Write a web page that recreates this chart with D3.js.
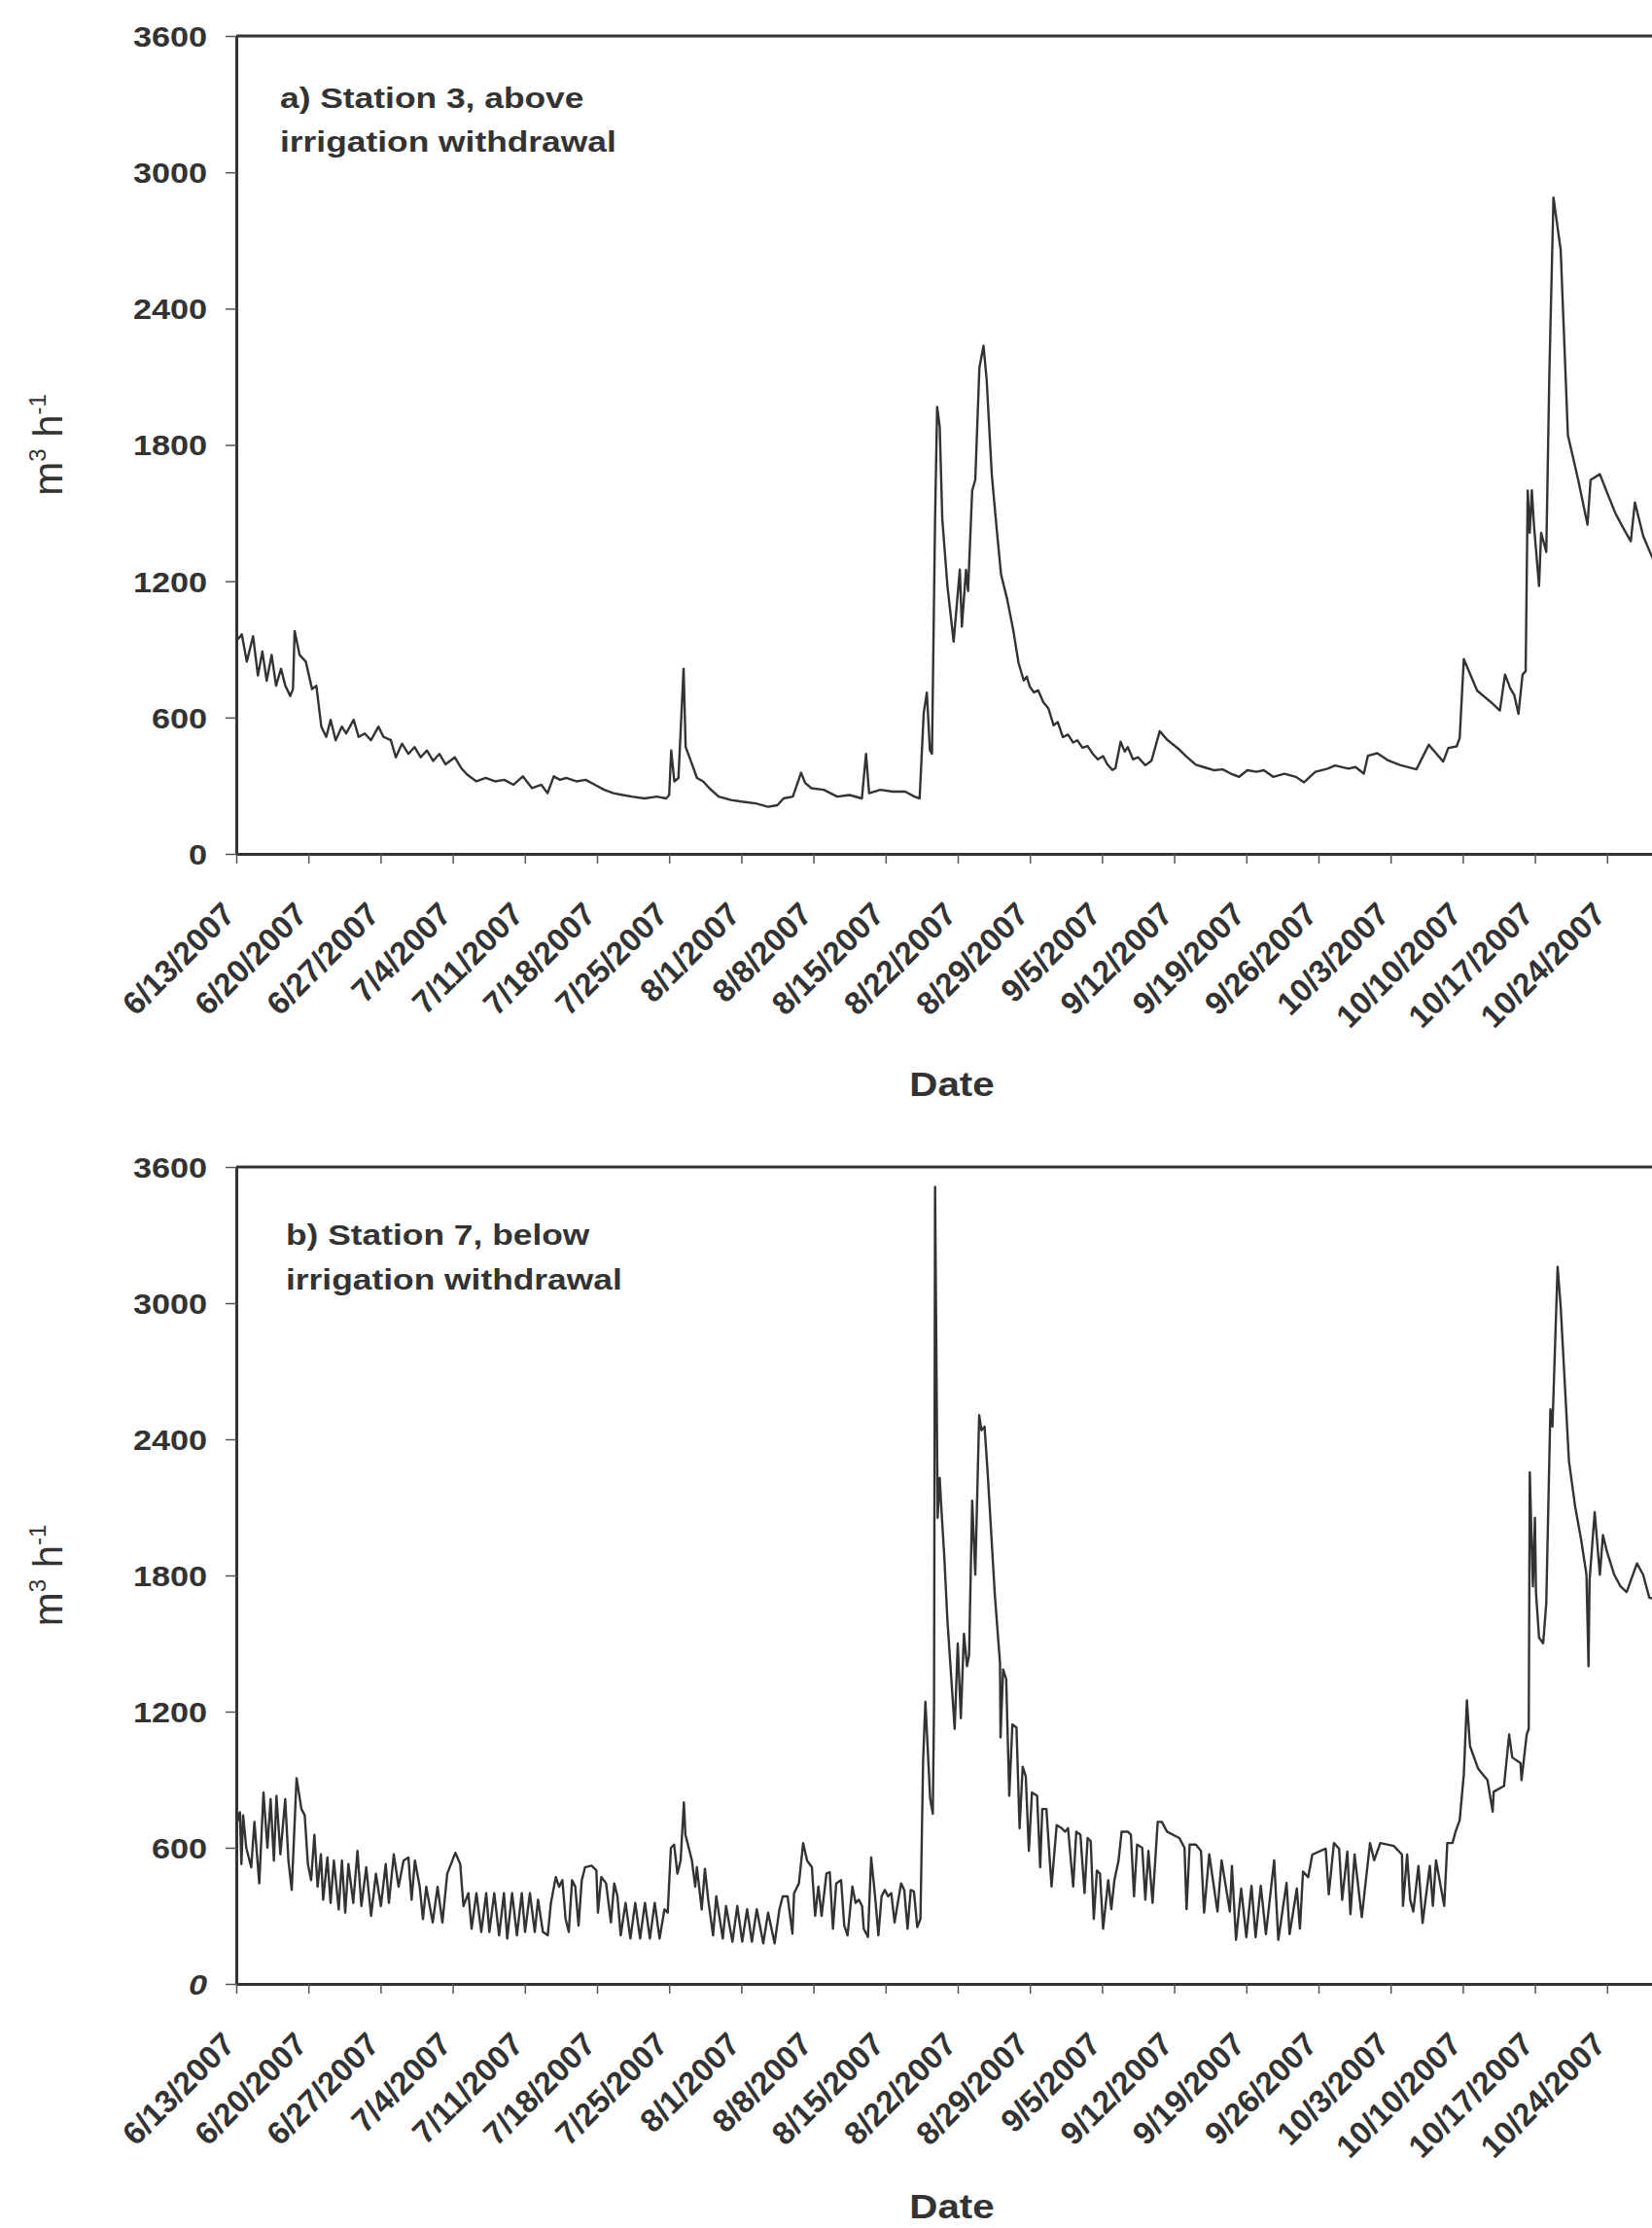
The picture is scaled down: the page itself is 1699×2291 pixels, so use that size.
<!DOCTYPE html>
<html>
<head>
<meta charset="utf-8">
<script src="https://cdn.jsdelivr.net/npm/d3@7"></script>
<style>
html, body { margin: 0; padding: 0; background: #ffffff; }
svg { display: block; }
text { font-family: "Liberation Sans", Arial, Helvetica, sans-serif; fill: #333333; }
</style>
</head>
<body>
<svg id="chart" width="1699" height="2291"></svg>
<script>
// ---------------- DATA ----------------
// x tick labels (weekly)
const tickLabels = ["6/13/2007","6/20/2007","6/27/2007","7/4/2007","7/11/2007","7/18/2007","7/25/2007",
  "8/1/2007","8/8/2007","8/15/2007","8/22/2007","8/29/2007","9/5/2007","9/12/2007","9/19/2007",
  "9/26/2007","10/3/2007","10/10/2007","10/17/2007","10/24/2007"];
const yTicks = [0, 600, 1200, 1800, 2400, 3000, 3600];
const startDate = "6/13/2007";
const endDate = "10/31/2007";
const panelTitlesA = ["a) Station 3, above", "irrigation withdrawal"];
const panelTitlesB = ["b) Station 7, below", "irrigation withdrawal"];
const xTitle = "Date";

// Discharge, m3 h-1 : [days since 6/13/2007, value]
const station3 = [
[0,936],[0.54,966],[1.02,846],[1.63,958],[2.1,785],[2.53,891],[2.95,762],[3.43,876],[3.86,740],[4.34,815],
[4.76,740],[5.24,695],[5.5,725],[5.66,981],[6.14,876],[6.75,846],[7.35,725],[7.77,740],[8.25,560],[8.73,515],
[9.16,590],[9.64,500],[10.24,560],[10.66,530],[11.39,590],[11.87,515],[12.47,530],[13.07,500],[13.8,560],[14.28,515],
[15.0,500],[15.48,425],[16.08,485],[16.69,440],[17.29,470],[17.89,425],[18.49,455],[19.1,409],[19.7,440],[20.3,394],
[21.2,425],[21.8,379],[22.4,349],[23.3,319],[24.2,334],[25.1,319],[26.0,326],[26.9,304],[27.8,341],[28.7,289],
[29.6,304],[30.2,267],[30.8,341],[31.4,326],[32.0,334],[33.0,319],[33.9,326],[34.8,304],[35.7,282],[36.6,267],
[37.5,259],[38.4,252],[39.6,244],[40.8,252],[41.7,244],[42.0,259],[42.2,455],[42.5,319],[42.9,334],[43.4,815],
[43.6,470],[44.1,409],[44.7,334],[45.3,319],[45.9,289],[46.8,252],[48.0,237],[49.2,229],[50.4,222],[51.6,207],
[52.5,214],[53.1,244],[54.0,252],[54.8,357],[55.2,312],[55.8,289],[57.0,282],[58.3,252],[59.5,259],[60.7,244],
[61.1,440],[61.4,267],[62.5,282],[63.7,274],[64.9,274],[65.8,252],[66.3,244],[66.7,620],[67.0,710],[67.3,455],
[67.5,441],[67.8,1474],[68.0,1967],[68.25,1880],[68.5,1474],[69.0,1179],[69.6,934],[70.2,1251],[70.4,1000],[70.8,1250],
[71.0,1157],[71.4,1599],[71.7,1646],[72.1,2139],[72.5,2237],[72.8,2091],[73.3,1671],[73.8,1420],[74.2,1230],[74.8,1120],
[75.4,981],[75.9,840],[76.4,763],[76.7,780],[77.0,735],[77.4,711],[77.8,720],[78.3,668],[78.8,640],[79.3,566],
[79.7,580],[80.2,514],[80.7,525],[81.2,490],[81.6,500],[82.1,467],[82.6,475],[83.1,440],[83.6,416],[84.1,430],
[84.5,395],[85.0,369],[85.3,378],[85.8,493],[86.2,450],[86.5,470],[87.0,416],[87.5,425],[88.2,390],[88.8,410],
[89.6,540],[90.3,503],[91.5,459],[92.1,432],[93.1,392],[94.0,380],[94.9,368],[95.7,372],[96.5,353],[97.3,339],
[98.1,368],[99.0,361],[99.7,368],[100.6,339],[101.7,353],[102.8,339],[103.6,315],[104.7,361],[105.9,375],[106.6,389],
[107.9,375],[108.6,382],[109.4,353],[109.8,432],[110.7,443],[111.7,413],[112.9,391],[114.5,372],[115.7,480],[116.4,443],
[117.1,406],[117.6,466],[118.4,473],[118.7,510],[119.1,857],[119.6,804],[120.4,718],[121.7,669],[122.6,631],[123.1,789],
[123.6,729],[124.0,698],[124.4,616],[124.8,789],[125.1,804],[125.3,1599],[125.5,1413],[125.7,1600],[125.9,1450],[126.4,1179],
[126.6,1413],[127.1,1329],[127.4,2113],[127.8,2889],[128.5,2657],[129.2,1843],[130.2,1646],[131.1,1449],[131.4,1646],[132.3,1671],
[133.0,1590],[133.8,1500],[134.5,1440],[135.3,1376],[135.7,1547],[136.5,1400],[137.4,1303],[139.0,1250]
];

const station7 = [
[0.0,700],[0.35,757],[0.5,528],[0.66,743],[0.97,600],[1.45,514],[1.76,714],[2.23,443],[2.64,843],[3.02,600],
[3.33,814],[3.65,543],[3.9,828],[4.28,571],[4.75,814],[5.06,543],[5.38,414],[5.85,907],[6.32,771],[6.64,743],
[6.95,528],[7.26,457],[7.58,657],[7.89,428],[8.21,571],[8.43,371],[8.84,557],[9.15,357],[9.47,543],[9.94,328],
[10.25,543],[10.57,314],[10.88,528],[11.35,357],[11.76,586],[12.14,343],[12.61,514],[13.08,300],[13.55,486],[14.03,343],
[14.5,528],[14.81,357],[15.28,571],[15.75,428],[16.23,543],[16.7,557],[17.01,371],[17.33,543],[17.8,428],[18.11,286],
[18.43,428],[19.06,271],[19.53,428],[20.0,271],[20.47,486],[21.26,578],[21.73,528],[22.04,343],[22.52,400],[22.83,243],
[23.3,400],[23.77,229],[24.25,400],[24.56,229],[25.03,400],[25.5,214],[25.97,400],[26.29,200],[26.76,400],[27.23,214],
[27.7,400],[28.02,229],[28.49,400],[28.96,229],[29.28,371],[29.75,229],[30.22,214],[30.53,357],[31.0,471],[31.32,428],
[31.64,457],[31.95,286],[32.26,229],[32.58,457],[32.89,428],[33.21,257],[33.52,457],[33.84,514],[34.47,521],[34.94,500],
[35.09,314],[35.41,471],[35.88,443],[36.35,271],[36.67,443],[36.98,386],[37.3,214],[37.77,357],[38.24,200],[38.71,357],
[39.18,200],[39.65,357],[40.13,200],[40.6,357],[41.07,200],[41.54,328],[41.86,314],[42.17,600],[42.48,614],[42.8,486],
[43.11,543],[43.43,800],[43.58,657],[43.9,600],[44.21,543],[44.53,428],[44.69,514],[45.16,328],[45.47,507],[45.79,371],
[46.26,214],[46.57,386],[47.2,200],[47.52,343],[48.14,186],[48.61,343],[49.09,186],[49.56,329],[50.03,186],[50.5,329],
[51.13,179],[51.6,314],[52.23,179],[52.7,329],[53.02,386],[53.49,386],[53.96,221],[54.12,400],[54.59,443],[55.0,621],
[55.38,543],[55.85,514],[56.16,300],[56.48,429],[56.79,300],[57.26,486],[57.58,493],[57.89,243],[58.21,443],[58.68,457],
[58.99,257],[59.31,214],[59.78,429],[60.09,357],[60.41,371],[60.72,343],[60.88,243],[61.29,207],[61.6,557],[61.98,386],
[62.3,214],[62.61,386],[62.92,414],[63.24,386],[63.55,400],[63.87,271],[64.5,443],[64.81,414],[65.13,243],[65.44,414],
[65.75,407],[66.07,250],[66.38,286],[66.64,986],[66.86,1243],[67.33,814],[67.58,750],[67.7,1229],[67.8,3512],[68.05,2054],
[68.25,2230],[68.4,2104],[68.7,1878],[69.0,1600],[69.7,1124],[70.0,1500],[70.3,1171],[70.6,1543],[70.9,1400],[71.1,1450],
[71.4,2129],[71.7,1803],[72.08,2506],[72.3,2440],[72.6,2456],[72.9,2255],[73.6,1714],[74.1,1414],[74.15,1086],[74.4,1386],
[74.7,1343],[75.0,829],[75.3,1143],[75.7,1129],[76.0,686],[76.3,957],[76.6,914],[76.9,586],[77.2,843],[77.7,829],
[78.0,514],[78.2,771],[78.6,771],[79.1,429],[79.6,700],[80.1,686],[80.4,671],[80.7,686],[81.2,429],[81.5,671],
[81.9,657],[82.3,400],[82.6,643],[82.9,629],[83.2,286],[83.5,500],[83.8,486],[84.1,243],[84.6,457],[84.9,329],
[85.2,457],[85.6,543],[85.9,671],[86.5,671],[86.8,657],[87.1,386],[87.4,614],[87.9,600],[88.2,371],[88.5,586],
[88.9,357],[89.4,714],[89.8,714],[90.3,671],[90.9,657],[91.5,643],[92.0,600],[92.2,329],[92.5,614],[93.1,614],
[93.6,586],[93.9,314],[94.4,571],[95.2,319],[95.6,545],[96.4,319],[96.6,520],[97.0,194],[97.5,420],[98.0,206],
[98.5,432],[98.9,206],[99.4,432],[99.9,219],[100.7,545],[101.1,194],[101.9,445],[102.2,219],[102.9,420],[103.2,244],
[103.5,495],[104.0,470],[104.4,570],[105.7,596],[106.0,395],[106.5,621],[107.0,596],[107.3,370],[107.8,583],[108.1,307],
[108.5,570],[109.2,294],[110.0,621],[110.4,545],[111.0,621],[112.3,608],[113.1,570],[113.2,344],[113.6,570],[113.9,370],
[114.2,319],[114.7,520],[115.1,269],[115.8,520],[116.1,344],[116.4,545],[117.2,344],[117.5,621],[118.0,621],[118.3,671],
[118.7,722],[119.1,923],[119.4,1249],[119.7,1048],[120.5,948],[121.4,898],[121.9,759],[122.0,847],[123.0,872],[123.5,1099],
[123.8,998],[124.6,973],[124.7,898],[125.2,1099],[125.4,1124],[125.5,2255],[125.8,1752],[126.0,2054],[126.1,1727],[126.4,1526],
[126.8,1501],[127.1,1677],[127.5,2532],[127.7,2456],[128.2,3160],[128.5,2984],[129.3,2305],[129.9,2104],[130.5,1953],[131.0,1803],
[131.2,1400],[131.3,1777],[131.8,2079],[132.3,1803],[132.6,1978],[133.0,1903],[133.7,1803],[134.3,1752],[134.9,1727],[135.9,1853],
[136.5,1803],[137.1,1702],[139.0,1680]
];

// ---------------- DRAW ----------------
const svg = d3.select("#chart");
const parse = d3.utcParse("%m/%d/%Y");
const fmt = d3.utcFormat("%-m/%-d/%Y");
const t0 = parse(startDate);
const t1 = parse(endDate);
const toDate = d => new Date(t0.getTime() + d * 86400000);

const X0 = 243, DAYPX = 10.6;
const x = d3.scaleUtc().domain([t0, t1]).range([X0, X0 + DAYPX * 140]);
const tickDates = tickLabels.map(parse);
const STRETCH = 1.18;
const TITLE_STRETCH = 1.22;
const INK = "#333333";

const panels = [
  { top: 37, bottom: 878, data: station3, titles: panelTitlesA, tx: 288, ty: [111, 156], dateY: 1127, id: "a" },
  { top: 1200, bottom: 2040, data: station7, titles: panelTitlesB, tx: 294, ty: [1280, 1326], dateY: 2281, id: "b" }
];

panels.forEach(p => {
  const y = d3.scaleLinear().domain([0, 3600]).range([p.bottom, p.top]);
  const g = svg.append("g");

  svg.append("clipPath").attr("id", "clip-" + p.id)
    .append("rect").attr("x", x.range()[0]).attr("y", p.top - 2)
    .attr("width", x.range()[1] - x.range()[0]).attr("height", p.bottom - p.top + 2);

  const line = d3.line().x(d => x(toDate(d[0]))).y(d => y(d[1]));
  g.append("path").datum(p.data)
    .attr("clip-path", "url(#clip-" + p.id + ")")
    .attr("d", line).attr("fill", "none")
    .attr("stroke", "#333333").attr("stroke-width", 2.4)
    .attr("stroke-linejoin", "round");

  g.append("line").attr("x1", x.range()[0]).attr("x2", x.range()[1])
    .attr("y1", p.top).attr("y2", p.top)
    .attr("stroke", INK).attr("stroke-width", 3);

  const ya = g.append("g").attr("transform", `translate(${X0},0)`)
    .call(d3.axisLeft(y).tickValues(yTicks).tickSize(11).tickPadding(0).tickSizeOuter(0).tickFormat(d3.format("d")));
  ya.select(".domain").attr("stroke", INK).attr("stroke-width", 3);
  ya.selectAll(".tick line").attr("stroke", "#555").attr("stroke-width", 1.5);
  ya.selectAll(".tick text")
    .attr("x", -30 / STRETCH).attr("dy", "0.36em")
    .attr("transform", `scale(${STRETCH},1)`)
    .style("font-size", "29px").style("font-weight", "bold").attr("fill", "#333")
    .style("font-style", d => (p.id === "b" && d === 0) ? "italic" : "normal");

  const xa = g.append("g").attr("transform", `translate(0,${p.bottom})`)
    .call(d3.axisBottom(x).tickValues(tickDates).tickFormat(fmt).tickSize(10).tickSizeOuter(0));
  xa.select(".domain").attr("stroke", INK).attr("stroke-width", 3);
  xa.selectAll(".tick line").attr("stroke", "#555").attr("stroke-width", 1.5);
  xa.selectAll(".tick text")
    .attr("x", 0).attr("y", 0).attr("dy", 0)
    .attr("text-anchor", "end")
    .attr("transform", "translate(0,64) rotate(-45)")
    .style("font-size", "33px").style("font-weight", "bold").attr("fill", "#333");

  p.titles.forEach((t, i) => {
    g.append("text").attr("transform", `translate(${p.tx},${p.ty[i]}) scale(${TITLE_STRETCH},1)`)
      .style("font-size", "29px").style("font-weight", "bold").text(t);
  });

  const yt = g.append("text")
    .attr("transform", `translate(64,${(p.top + p.bottom) / 2}) rotate(-90)`)
    .attr("text-anchor", "middle").style("font-size", "42px");
  yt.append("tspan").text("m");
  yt.append("tspan").attr("dy", -17).style("font-size", "24px").text("3");
  yt.append("tspan").attr("dy", 17).text(" h");
  yt.append("tspan").attr("dy", -17).style("font-size", "24px").text("-1");

  g.append("text").attr("transform", `translate(979,${p.dateY}) scale(1.12,1)`)
    .attr("text-anchor", "middle").style("font-size", "36px").style("font-weight", "bold")
    .text(xTitle);
});
</script>
</body>
</html>
